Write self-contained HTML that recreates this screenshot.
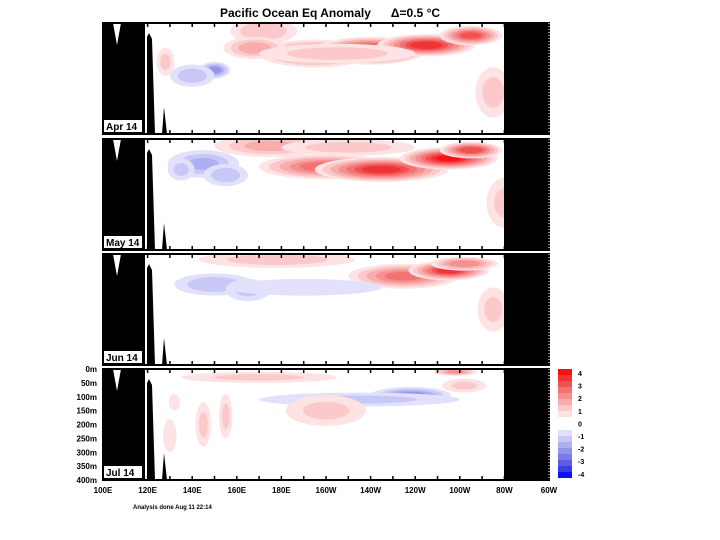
<!DOCTYPE html>
<html><head><meta charset="utf-8"><style>
html,body{margin:0;padding:0;background:#fff;}
svg{display:block;font-family:"Liberation Sans",sans-serif;}
</style></head><body>
<svg id="chart" width="720" height="540" viewBox="0 0 720 540">
<text x="330" y="17" text-anchor="middle" font-size="12" font-weight="bold">Pacific Ocean Eq Anomaly&#160;&#160;&#160;&#160;&#160;&#160;Δ=0.5 °C</text>
<g id="panels"></g>
<g id="axes"></g>
<g id="colorbar"></g>
<text x="133" y="509" font-size="6" font-weight="bold">Analysis done Aug 11 22:14</text>
</svg>
<script>
const months = ["Apr 14","May 14","Jun 14","Jul 14"];
// blobs: [panelIndex, lonE, depthM, amplitude, lonHalfWidthDeg, depthHalfWidthM]
const blobPanel = [0,0,0,0,0,0,0,0,0,0,0, 1,1,1,1,1,1,1,1,1,1, 2,2,2,2,2,2,2,2, 3,3,3,3,3,3,3,3,3,3,3];
const blobLon   = [172,195,220,245,265,150,140,275,168,128,205, 175,200,225,255,265,145,155,135,280,210, 178,235,255,262,150,165,275,190, 238,215,258,262,200,145,155,130,285,132,170];
const blobDepth = [ 30,110,100, 80, 45,170,190,250, 90,140,110,  25,100,110, 70, 40, 90,130,110,230, 30,  20, 80, 60, 35,110,130,200,120,  95,110, 10, 60,150,200,170,240,330,120, 30];
const blobAmp   = [1.4,2.6,4.0,3.8,3.2,-2.2,-1.2,1.1,1.8,1.0,1.2, 1.6,2.8,3.6,4.0,3.4,-1.5,-1.2,-1.0,1.0,1.2, 1.2,2.6,3.6,2.4,-1.3,-1.0,1.0,-0.8, -2.2,-1.0,2.0,1.0,1.0,1.0,1.0,0.8,-0.8,0.8,1.0];
const blobW     = [ 15, 25, 25, 22, 14,  7, 10,  8, 14,  4, 35,  25, 30, 30, 22, 14, 16, 10,  6,  8, 30,  35, 25, 18, 15, 18, 10,  7, 35,  18, 45, 10, 10, 18, 3.5, 3, 3, 4, 2.5, 35];
const blobH     = [ 45, 50, 50, 40, 35, 30, 40, 90, 40, 50, 35,  40, 45, 45, 40, 30, 50, 40, 40, 90, 30,  30, 45, 35, 25, 40, 40, 80, 30,  30, 25, 15, 25, 55, 80, 80, 60, 50, 30, 20];
const cbLabels = ["4","3","2","1","0","-1","-2","-3","-4"];

const NS="http://www.w3.org/2000/svg";
const panelTop=[23,139,254,369], panelH=111, X0=103, X1=549;
function xs(lon){return X0+(lon-100)*(X1-X0)/200;}
function ys(p,d){return panelTop[p]+d*panelH/400;}
const warm=["#fde3e3","#fbc9c9","#f9acac","#f68f8f","#f37272","#f05252","#ee3434","#ff1010"];
const cool=["#e1e1fb","#c8c8f6","#aeaef2","#9494ee","#7a7aea","#5c5ce8","#3d3de8","#1010ff"];
function el(t,a,parent){const e=document.createElementNS(NS,t);for(const k in a)e.setAttribute(k,a[k]);parent.appendChild(e);return e;}
const panels=document.getElementById('panels');
const defs=el('defs',{},panels);
for(let p=0;p<4;p++){
  const cp=el('clipPath',{id:'clip'+p},defs);
  el('rect',{x:X0,y:panelTop[p],width:X1-X0,height:panelH},cp);
  const g=el('g',{'clip-path':'url(#clip'+p+')'},panels);
  
  
  el('rect',{x:X0,y:panelTop[p],width:X1-X0,height:panelH,fill:'#fff'},g);
  for(let i=0;i<blobPanel.length;i++){
    if(blobPanel[i]!==p) continue;
    const a=Math.abs(blobAmp[i]); const pal=blobAmp[i]>0?warm:cool;
    for(let l=0.5,k=0;l<=a+1e-6;l+=0.5,k++){
      const f=1-(l-0.5)/a*0.85;
      const e=el('ellipse',{cx:xs(blobLon[i]),cy:ys(p,blobDepth[i]),rx:blobW[i]*f*(X1-X0)/200,ry:blobH[i]*f*panelH/400,fill:pal[Math.min(k,7)]},g);
      
      
    }
  }
  const t=panelTop[p], b=t+panelH;
  const land=el('path',{d:`M${X0} ${t}H113L117 ${t+22}L121 ${t}H145V${b}H${X0}Z M147 ${b}V${t+14}L149 ${t+10}L152 ${t+16}L155 ${b}Z M162 ${b}L164 ${t+84}L167 ${b}Z M504 ${t}H${X1}V${b}H504Z`,fill:'#000'},g);
  
  
  const bd=el('rect',{x:X0,y:t,width:X1-X0,height:panelH,fill:'none',stroke:'#000','stroke-width':2},panels);
  
  
  el('line',{x1:X1,y1:t,x2:X1,y2:b,stroke:'#fff','stroke-width':1,'stroke-dasharray':'1 2'},panels);
  for(let lon=110;lon<300;lon+=10){
    el('line',{x1:xs(lon),y1:t,x2:xs(lon),y2:t+4,stroke:'#000','stroke-width':1.5},panels);
    el('line',{x1:xs(lon),y1:b,x2:xs(lon),y2:b-4,stroke:'#000','stroke-width':1.5},panels);
  }
  el('rect',{x:104,y:b-14,width:38,height:12,fill:'#fff'},panels);
  const lbl=el('text',{x:106,y:b-4,'font-size':10,'font-weight':'bold'},panels);
  lbl.textContent=months[p];
  
  
}
const axes=document.getElementById('axes');
const xl=["100E","120E","140E","160E","180E","160W","140W","120W","100W","80W","60W"];
xl.forEach((s,i)=>{const t=el('text',{x:xs(100+i*20),y:493,'font-size':8,'font-weight':'bold','text-anchor':'middle'},axes);t.textContent=s;
  });
for(let d=0;d<=400;d+=50){const t=el('text',{x:97,y:ys(3,d)+3,'font-size':8,'font-weight':'bold','text-anchor':'end'},axes);t.textContent=d+'m';
  }
const cb=document.getElementById('colorbar');
let y=369;
for(let k=7;k>=0;k--){el('rect',{x:558,y:y,width:14,height:6,fill:warm[k]},cb);y+=6;}
el('rect',{x:558,y:y,width:14,height:13,fill:'#fff'},cb);y+=13;
for(let k=0;k<8;k++){el('rect',{x:558,y:y,width:14,height:6,fill:cool[k]},cb);y+=6;}
cbLabels.forEach((s,i)=>{const t=el('text',{x:578,y:376+i*12.6,'font-size':7,'font-weight':'bold'},cb);t.textContent=s;
  });
</script>
</body></html>
